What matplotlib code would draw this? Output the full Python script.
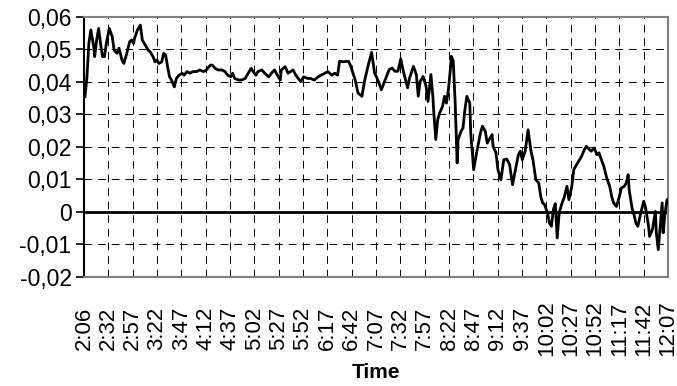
import numpy as np
import matplotlib.pyplot as plt
from matplotlib.ticker import FuncFormatter

plt.rcParams['font.family'] = ['Liberation Sans', 'DejaVu Sans']

# minutes after 2:06 and measured value
minutes = [1, 3, 5, 7, 10, 11, 13, 15, 17, 19, 21, 23, 26, 29, 31, 34, 36, 39, 41, 44,
           47, 49, 51, 52, 55, 58, 60, 63, 66, 68, 71, 73, 75, 77, 80, 82, 84, 86, 88, 90,
           93, 95, 98, 101, 103, 106, 109, 112, 116, 119, 123, 126, 130, 132, 135, 138, 142, 145, 148, 151,
           153, 155, 159, 162, 166, 169, 172, 174, 177, 179, 183, 186, 190, 193, 196, 199, 202, 203, 207, 210,
           215, 218, 223, 226, 230, 233, 237, 241, 244, 248, 251, 255, 258, 261, 263, 267, 272, 274, 279, 282,
           286, 289, 293, 296, 299, 303, 306, 310, 314, 317, 320, 323, 326, 329, 333, 335, 339, 342, 344, 346,
           349, 352, 354, 357, 359, 360, 362, 364, 366, 369, 371, 373, 375, 377, 378, 380, 382, 384, 385, 388,
           390, 392, 394, 397, 398, 401, 404, 408, 410, 413, 415, 417, 420, 421, 424, 426, 429, 432, 435, 438,
           441, 444, 447, 449, 451, 454, 457, 460, 462, 465, 468, 470, 472, 474, 477, 479, 481, 483, 485, 487,
           489, 492, 494, 497, 499, 502, 504, 507, 510, 512, 515, 517, 520, 522, 525, 528, 530, 533, 535, 538,
           541, 543, 545, 548, 551, 553, 556, 558, 560, 561, 564, 566, 568, 570, 573, 576, 578, 581, 582, 585,
           588, 589, 591, 593, 595, 596, 598, 600, 601]
values = [0.0355, 0.0416, 0.0519, 0.0560, 0.0509, 0.0478, 0.0529, 0.0565, 0.0519, 0.0478,
          0.0478, 0.0519, 0.0565, 0.0540, 0.0498, 0.0488, 0.0504, 0.0468, 0.0457, 0.0488,
          0.0524, 0.0529, 0.0519, 0.0534, 0.0560, 0.0575, 0.0529, 0.0514, 0.0498, 0.0493,
          0.0478, 0.0462, 0.0468, 0.0457, 0.0462, 0.0488, 0.0483, 0.0447, 0.0416, 0.0406,
          0.0385, 0.0411, 0.0421, 0.0427, 0.0421, 0.0432, 0.0427, 0.0432, 0.0432, 0.0437,
          0.0432, 0.0437, 0.0452, 0.0452, 0.0442, 0.0437, 0.0437, 0.0432, 0.0421, 0.0416,
          0.0427, 0.0411, 0.0406, 0.0406, 0.0411, 0.0427, 0.0442, 0.0432, 0.0421, 0.0432,
          0.0437, 0.0427, 0.0416, 0.0427, 0.0437, 0.0421, 0.0406, 0.0437, 0.0447, 0.0427,
          0.0437, 0.0421, 0.0401, 0.0416, 0.0411, 0.0411, 0.0406, 0.0416, 0.0421, 0.0427,
          0.0432, 0.0421, 0.0427, 0.0421, 0.0464, 0.0462, 0.0464, 0.0453, 0.0407, 0.0366,
          0.0356, 0.0407, 0.0458, 0.0491, 0.0428, 0.0402, 0.0376, 0.0407, 0.0438, 0.0443,
          0.0433, 0.0433, 0.0471, 0.0428, 0.0382, 0.0412, 0.0448, 0.0423, 0.0356, 0.0402,
          0.0417, 0.0387, 0.0340, 0.0423, 0.0356, 0.0305, 0.0223, 0.0284, 0.0305, 0.0325,
          0.0356, 0.0335, 0.0376, 0.0438, 0.0479, 0.0464, 0.0335, 0.0151, 0.0223, 0.0248,
          0.0258, 0.0315, 0.0356, 0.0335, 0.0243, 0.0130, 0.0182, 0.0243, 0.0264, 0.0248,
          0.0212, 0.0223, 0.0238, 0.0202, 0.0182, 0.0130, 0.0099, 0.0161, 0.0163, 0.0146,
          0.0084, 0.0130, 0.0176, 0.0187, 0.0161, 0.0187, 0.0253, 0.0187, 0.0161, 0.0099,
          0.0089, 0.0048, 0.0028, 0.0023, -0.0003, -0.0034, -0.0044, 0.0007, 0.0026, -0.0080,
          -0.0003, 0.0028, 0.0043, 0.0079, 0.0038, 0.0079, 0.0130, 0.0146, 0.0161, 0.0171,
          0.0192, 0.0202, 0.0192, 0.0187, 0.0197, 0.0176, 0.0182, 0.0156, 0.0140, 0.0104,
          0.0079, 0.0048, 0.0028, 0.0017, 0.0048, 0.0074, 0.0079, 0.0089, 0.0115, 0.0069,
          0.0012, -0.0008, -0.0034, -0.0044, -0.0003, 0.0033, 0.0012, -0.0044, -0.0075, -0.0054,
          0.0002, -0.0064, -0.0116, -0.0044, 0.0028, -0.0064, -0.0003, 0.0038, 0.0038]

time_labels = ['2:06', '2:32', '2:57', '3:22', '3:47', '4:12', '4:37', '5:02', '5:27',
               '5:52', '6:17', '6:42', '7:07', '7:32', '7:57', '8:22', '8:47', '9:12',
               '9:37', '10:02', '10:27', '10:52', '11:17', '11:42', '12:07']
span = 601

fig = plt.figure(figsize=(6.77, 3.86), dpi=100)
ax = fig.add_axes([0.1241, 0.2824, 0.8626, 0.6736])

ax.plot(minutes, values, color='black', lw=2.0, zorder=3)
ax.axhline(0, color='black', lw=2.0, zorder=2)

ax.set_xlim(0, span)
ax.set_ylim(-0.02, 0.06)
ax.set_yticks(np.arange(-0.02, 0.0601, 0.01))
ax.yaxis.set_major_formatter(FuncFormatter(
    lambda v, p: '0' if abs(v) < 1e-9 else f'{v:.2f}'.replace('.', ',')))
ax.set_xticks(np.linspace(0, span, len(time_labels)))
ax.set_xticklabels(time_labels, rotation=90, va='center')

ax.grid(True, color='black', lw=0.7, ls=(0, (8, 6)))
ax.set_axisbelow(True)

ax.tick_params(axis='y', labelsize=16.5, length=6, width=1.2, direction='out', pad=3)
ax.tick_params(axis='x', labelsize=16, length=0, pad=37)
for s in ['top', 'right', 'bottom']:
    ax.spines[s].set_color('#808080')
    ax.spines[s].set_linewidth(1.5)
ax.spines['left'].set_color('black')
ax.spines['left'].set_linewidth(1.5)

fig.text(0.555, 1 - 372 / 386, 'Time', ha='center', va='center',
         fontsize=15, fontweight='bold')

plt.savefig('out.png', dpi=100)
